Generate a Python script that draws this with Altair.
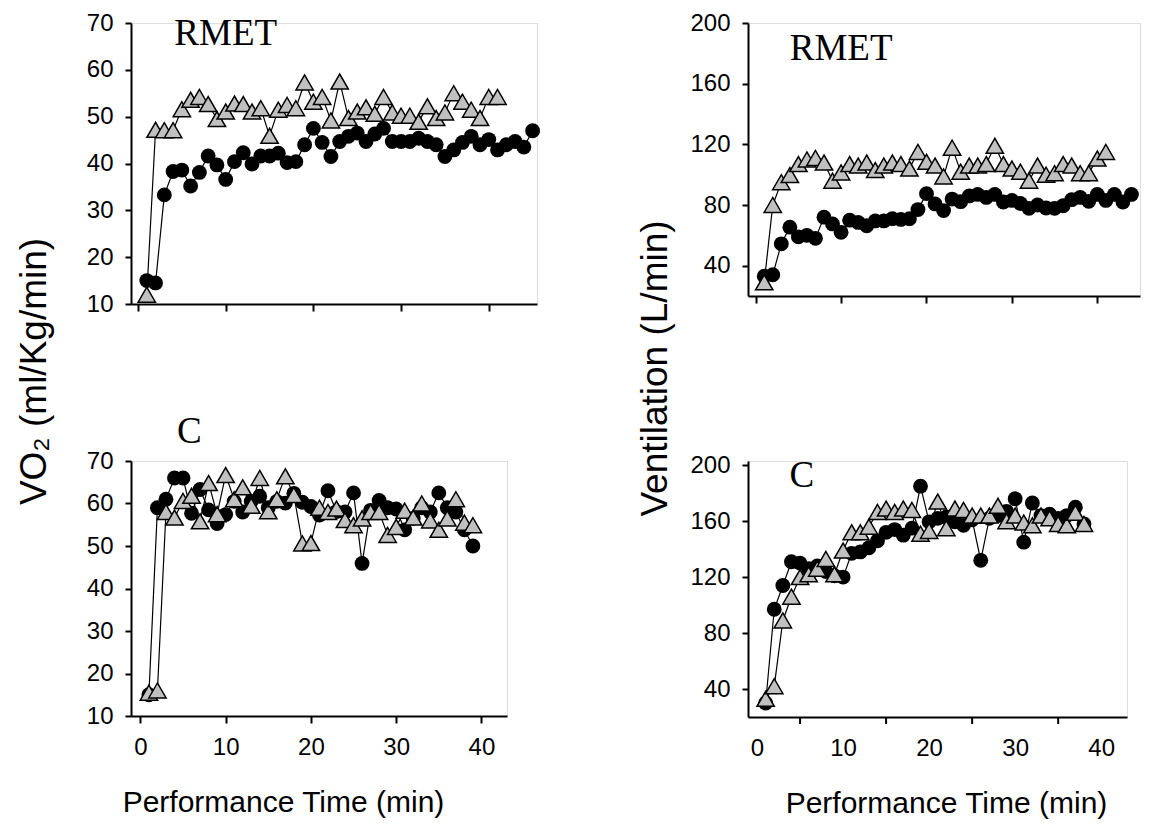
import altair as alt
import pandas as pd

# ---------------- data ----------------
# Top-left: VO2, RMET
tl_circ_t = list(range(1, 46))
tl_circ_v = [15, 14.5, 33.3, 38.3, 38.6, 35.2, 38.1, 41.6, 39.7, 36.6,
             40.4, 42.3, 39.9, 41.6, 41.6, 42.2, 40.2, 40.4, 44, 47.5,
             44.5, 41.5, 44.7, 45.8, 46.5, 44.7, 46.3, 47.5, 44.7, 44.7,
             44.7, 45.4, 44.7, 44, 41.5, 42.9, 44.5, 45.8, 44, 45.1,
             42.9, 44, 44.7, 43.5, 47]
tl_tri_t = list(range(1, 42))
tl_tri_v = [12, 47.2, 47.1, 47.1, 51.6, 53.6, 54.2, 52.7, 49.5, 51.1,
            52.8, 52.7, 51.1, 51.8, 45.9, 51.5, 52.5, 51.8, 57.3, 53.2,
            54.2, 49.2, 57.5, 49.7, 51.1, 52, 50.6, 54.2, 50.9, 50.2,
            50.2, 48.9, 52.2, 49.7, 50.9, 55, 53.2, 51.5, 49.7, 54.2, 54.2]

# Top-right: Ventilation, RMET
tr_circ_t = list(range(1, 45))
tr_circ_v = [33, 34, 54.4, 65.4, 59, 60, 58, 72, 67.5, 62,
             70, 68.5, 66.3, 69.5, 69.5, 71, 70.5, 71, 77, 87.5,
             80.7, 76.3, 83.9, 82.2, 86, 87, 85, 87, 82, 83,
             81, 77.8, 80, 78, 77.8, 79.5, 83.5, 85, 82.4, 87,
             83, 87, 82, 87]
tr_tri_t = list(range(1, 42))
tr_tri_v = [29, 80, 95, 99.7, 107, 110, 111, 108, 96, 101.5,
            107, 106, 108, 103, 106, 108, 107, 104, 115, 108.5,
            106, 98.8, 117.8, 102, 106, 106, 107, 119, 107, 104,
            102, 96, 106, 100, 101, 107, 106, 101, 101, 110.6, 115]

# Bottom-left: VO2, C
bl_circ_t = list(range(1, 40))
bl_circ_v = [15, 59, 61, 66, 66, 57.7, 63.3, 58.5, 55.3, 57.4,
             60.5, 58, 60.5, 61.7, 59, 60.5, 60.1, 62.4, 60.3, 59.3,
             57.3, 63, 58.1, 58, 62.5, 45.9, 58.4, 60.7, 59, 58.7,
             53.8, 56.5, 59, 58, 62.5, 59, 58, 53.8, 50]
bl_tri_t = list(range(1, 40))
bl_tri_v = [15.5, 16, 58, 56.7, 60.6, 61.8, 55.8, 64.8, 57.5, 66.7,
            61, 63.8, 59.5, 66, 58.2, 61, 66.4, 62, 50.6, 50.7,
            59, 58, 58.8, 56.1, 54.9, 56.5, 58, 58, 52.6, 54.5,
            58.3, 56.7, 60, 56, 53.8, 56.5, 61, 55.5, 54.9]

# Bottom-right: Ventilation, C
br_circ_t = list(range(1, 39))
br_circ_v = [30, 97, 114, 131, 130, 126, 128, 124, 121, 120,
             137, 138, 141, 146, 152, 154, 150, 155, 185, 159.5,
             162, 163, 159.5, 157, 161, 132, 162, 164, 167, 176,
             145, 173, 164, 165, 162, 164, 170, 158]
br_tri_t = list(range(1, 39))
br_tri_v = [33, 42, 89, 106, 120, 122, 126, 133, 122, 139,
            152, 152, 156, 166.6, 169, 166.6, 169, 168, 151, 153,
            174, 155, 169, 168, 164, 164, 164, 171, 160, 164,
            159, 157, 164, 162, 158, 157, 166, 158]

x_ticks = [0, 10, 20, 30, 40]
br_tick_marks = [5, 15, 25, 35]   # bottom-right panel: ticks sit between labels
vo2_ticks = [10, 20, 30, 40, 50, 60, 70]
ve_ticks = [40, 80, 120, 160, 200]

FONT = "Liberation Sans"
SERIF = "Liberation Serif"


def panel(ct, cv, tt, tv, xdom, ydom, yticks, w, h, show_xlabels,
          label, lx, ly, ytitle=None, ytx=0, yty=0, extra_ticks=None,
          xtx=None):
    circ = pd.DataFrame({"t": ct, "v": cv, "s": "circle"})
    tri = pd.DataFrame({"t": tt, "v": tv, "s": "triangle"})
    xargs = dict(values=x_ticks, labels=show_xlabels, grid=False,
                 domainColor="black", domainWidth=2, tickColor="black",
                 tickWidth=2, tickSize=7, labelFont=FONT, labelFontSize=24,
                 labelColor="black", labelPadding=12)
    if extra_ticks is not None:
        xargs.update(tickOpacity=0)
    if show_xlabels:
        xargs.update(title="Performance Time (min)", titleFont=FONT,
                     titleFontSize=30, titleFontWeight="normal",
                     titleColor="black", titlePadding=28)
        if xtx is not None:
            xargs.update(titleX=xtx, titleAlign="center")
    else:
        xargs.update(title=None)
    yargs = dict(values=yticks, grid=False, domainColor="black", domainWidth=2,
                 tickColor="black", tickWidth=2, tickSize=6, labelFont=FONT,
                 labelFontSize=24, labelColor="black", labelPadding=12)
    if ytitle:
        yargs.update(title=ytitle, titleFont=FONT, titleFontSize=37,
                     titleFontWeight="normal", titleColor="black",
                     titleX=ytx, titleY=yty, titleAngle=270,
                     titleAlign="center", titleBaseline="bottom")
    else:
        yargs.update(title=None)
    xs = alt.Scale(domain=xdom, nice=False, zero=False)
    ys = alt.Scale(domain=ydom, nice=False, zero=False)
    X = alt.X("t:Q", scale=xs, axis=alt.Axis(**xargs))
    Y = alt.Y("v:Q", scale=ys, axis=alt.Axis(**yargs))
    l1 = alt.Chart(circ).mark_line(color="black", strokeWidth=1.2).encode(x=X, y=Y)
    l2 = alt.Chart(tri).mark_line(color="black", strokeWidth=1.2).encode(x=X, y=Y)
    p1 = alt.Chart(circ).mark_point(shape="circle", filled=True, color="black",
                                    opacity=1, size=220).encode(x=X, y=Y)
    p2 = alt.Chart(tri).mark_point(shape="triangle-up", filled=True,
                                   fill="#c0c0c0", stroke="black",
                                   strokeWidth=1.5, opacity=1,
                                   size=300).encode(x=X, y=Y)
    txt = alt.Chart(pd.DataFrame({"t": [lx], "v": [ly], "lab": [label]})).mark_text(
        font=SERIF, fontSize=37, color="black", align="center",
        baseline="alphabetic").encode(x=X, y=Y, text="lab:N")
    layers = [l1, l2, p1, p2, txt]
    if extra_ticks is not None:
        tk = alt.Chart(pd.DataFrame({"t": extra_ticks})).mark_rule(
            color="black", strokeWidth=2).encode(
            x=X, y=alt.value(h), y2=alt.value(h + 7))
        layers.append(tk)
    return alt.layer(*layers).properties(width=w, height=h)


tl = panel(tl_circ_t, tl_circ_v, tl_tri_t, tl_tri_v, [-0.8, 45.5], [10, 70],
           vo2_ticks, 406, 281, False, "RMET", 10, 65.3,
           ytitle="VO₂ (ml/Kg/min)", ytx=-78, yty=348)
tr = panel(tr_circ_t, tr_circ_v, tr_tri_t, tr_tri_v, [-0.9, 45], [20, 200],
           ve_ticks, 392, 273, False, "RMET", 10, 175.7,
           ytitle="Ventilation (L/min)", ytx=-74, yty=345)
bl = panel(bl_circ_t, bl_circ_v, bl_tri_t, bl_tri_v, [-1.1, 43], [10, 70],
           vo2_ticks, 376, 255, True, "C", 5.75, 74.2, xtx=152)
br = panel(br_circ_t, br_circ_v, br_tri_t, br_tri_v, [-1.05, 43], [20, 203],
           ve_ticks, 379, 256, True, "C", 5.2, 184.3, extra_ticks=br_tick_marks,
           xtx=198)

chart = alt.concat(tl, tr, bl, br, columns=2,
                   spacing={"row": 157, "column": 211}, bounds="flush").properties(
    padding={"left": 14, "top": 10, "right": 5, "bottom": 5}
).configure_view(strokeWidth=0).configure(background="white")

chart.save("out.html", embed_options={"renderer": "svg", "actions": False})
